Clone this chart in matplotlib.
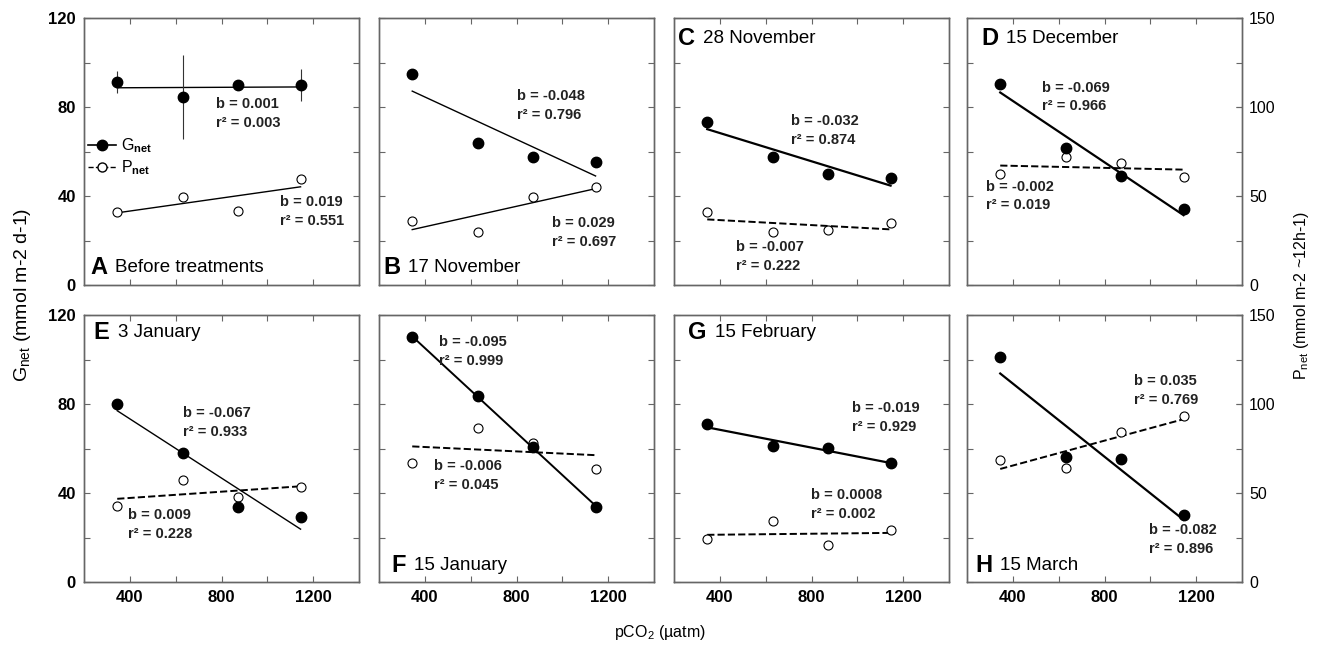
import numpy as np
import matplotlib
matplotlib.use('Agg')
import matplotlib.pyplot as plt
from matplotlib.lines import Line2D

plt.rcParams['font.family'] = ['Liberation Sans', 'DejaVu Sans']
plt.rcParams['mathtext.fontset'] = 'custom'
plt.rcParams['mathtext.rm'] = 'Liberation Sans'
plt.rcParams['mathtext.bf'] = 'Liberation Sans:bold'
plt.rcParams['mathtext.it'] = 'Liberation Sans:italic'

# pCO2 treatments (uatm)
pco2 = [345, 630, 870, 1145]

# Gnet (mmol m-2 d-1), left axis, one row per panel
g_net = [[91.1, 84.4, 89.9, 89.9],
         [94.8, 64.0, 57.7, 55.3],
         [73.4, 57.7, 49.8, 48.2],
         [90.5, 61.4, 49.0, 34.2],
         [79.8, 58.2, 33.5, 29.3],
         [110.0, 83.7, 60.8, 33.9],
         [70.8, 61.1, 60.3, 53.6],
         [101.3, 56.0, 55.2, 30.0]]

# Pnet (mmol m-2 ~12h-1), right axis
p_net = [[41.0, 49.6, 41.6, 59.4],
         [36.0, 30.0, 49.5, 55.3],
         [41.0, 29.6, 30.9, 34.6],
         [62.4, 72.1, 68.4, 60.9],
         [42.9, 57.2, 47.6, 53.4],
         [66.6, 86.6, 78.0, 63.6],
         [24.0, 34.1, 21.0, 29.1],
         [68.8, 64.1, 84.0, 93.4]]

# error bars only shown before treatments (panel A)
g_err_a = [5, 19, 2, 7]
p_err_a = [2, 2, 2, 2]

letters = ['A', 'B', 'C', 'D', 'E', 'F', 'G', 'H']
dates = ['Before treatments', '17 November', '28 November', '15 December',
         '3 January', '15 January', '15 February', '15 March']

g_stats = [('0.001', '0.003'), ('-0.048', '0.796'), ('-0.032', '0.874'), ('-0.069', '0.966'),
           ('-0.067', '0.933'), ('-0.095', '0.999'), ('-0.019', '0.929'), ('-0.082', '0.896')]
p_stats = [('0.019', '0.551'), ('0.029', '0.697'), ('-0.007', '0.222'), ('-0.002', '0.019'),
           ('0.009', '0.228'), ('-0.006', '0.045'), ('0.0008', '0.002'), ('0.035', '0.769')]

# text positions (x in uatm, y in left axis units)
g_txt_xy = [(775, 77), (804, 80.5), (709, 69.5), (526, 84.5),
            (630, 71.5), (461, 103.5), (978, 74), (996, 19)]
p_txt_xy = [(1057, 33), (957, 23.5), (470, 13), (283, 40),
            (391, 26), (440, 48), (796, 35), (930, 86)]
label_xy = [(226, 8), (217, 8), (218, 111), (261, 111),
            (243, 112), (255, 7.5), (262, 112), (235, 7.5)]
p_styles = ['-', '-', '--', '--', '--', '--', '--', '--']
g_widths = [1.0, 1.0, 1.6, 1.6, 1.0, 1.4, 1.6, 1.6]

spine_col = '#666666'
fig = plt.figure(figsize=(13.2, 6.45), dpi=100)
lefts = [84, 379, 674, 967]
bottoms = [285, 582]

for i in range(8):
    row, col = divmod(i, 4)
    ax = fig.add_axes([lefts[col] / 1320, (645 - bottoms[row]) / 645, 275 / 1320, 267 / 645])
    ax2 = ax.twinx()
    ax.set_xlim(200, 1400)
    ax.set_ylim(0, 120)
    ax2.set_ylim(0, 150)
    ax.set_zorder(ax2.get_zorder() + 1)
    ax.patch.set_visible(False)

    g = np.array(g_net[i])
    p = np.array(p_net[i])
    x = np.array(pco2)
    gfit = np.polyfit(x, g, 1)
    pfit = np.polyfit(x, p, 1)
    xl = np.array([x[0], x[-1]])

    ax2.plot(xl, np.polyval(pfit, xl), color='black', ls=p_styles[i], lw=1.4 if p_styles[i] == '--' else 1.0)
    if i == 0:
        ax2.errorbar(x, p, yerr=p_err_a, fmt='none', ecolor='#333333', elinewidth=0.8)
    ax2.plot(x, p, 'o', ms=6.5, mfc='white', mec='black', mew=0.8)

    ax.plot(xl, np.polyval(gfit, xl), color='black', lw=g_widths[i])
    if i == 0:
        ax.errorbar(x, g, yerr=g_err_a, fmt='none', ecolor='#333333', elinewidth=0.8)
    ax.plot(x, g, 'o', ms=7.5, color='black')

    ax.text(g_txt_xy[i][0], g_txt_xy[i][1], 'b = %s\nr² = %s' % g_stats[i],
            fontsize=10.5, fontweight='bold', va='center', ha='left', linespacing=1.45, color='#222222')
    ax.text(p_txt_xy[i][0], p_txt_xy[i][1], 'b = %s\nr² = %s' % p_stats[i],
            fontsize=10.5, fontweight='bold', va='center', ha='left', linespacing=1.45, color='#222222')

    lx, ly = label_xy[i]
    t = ax.text(lx, ly, letters[i], fontsize=17, fontweight='bold', va='center', ha='left')
    ax.annotate(dates[i], xy=(1, 0.5), xycoords=t, xytext=(6, 0), textcoords='offset points',
                fontsize=13.5, va='center', ha='left')

    ax.set_xticks([400, 600, 800, 1000, 1200])
    ax.set_yticks([0, 20, 40, 60, 80, 100, 120])
    ax.tick_params(direction='in', top=True, right=True, length=4, color=spine_col, pad=6)
    if row == 1:
        ax.set_xticklabels(['400', '', '800', '', '1200'], fontsize=12, fontweight='semibold')
    else:
        ax.set_xticklabels([])
    if col == 0:
        ax.set_yticklabels(['0', '', '40', '', '80', '', '120'], fontsize=12, fontweight='bold')
    else:
        ax.set_yticklabels([])
    if col == 3:
        ax2.set_yticks([0, 50, 100, 150])
        ax2.tick_params(direction='in', length=4, color=spine_col, labelsize=11.5, pad=5)
    else:
        ax2.set_yticks([])
    for a in (ax, ax2):
        for s in a.spines.values():
            s.set_color(spine_col)
            s.set_linewidth(1.0)

    if i == 0:
        handles = [Line2D([], [], color='black', marker='o', ms=7.5, lw=1.2),
                   Line2D([], [], color='black', marker='o', ms=6.5, mfc='white', lw=1.0, ls='--')]
        ax.legend(handles, [r'$\mathrm{G}_{\mathbf{net}}$', r'$\mathrm{P}_{\mathbf{net}}$'],
                  loc='upper left', bbox_to_anchor=(-0.01, 0.58), frameon=False, fontsize=11.5,
                  handlelength=1.8, handletextpad=0.3, labelspacing=0.2, borderaxespad=0)

fig.text(0.017, 0.543, r'$\mathrm{G}_{\mathrm{net}}$ (mmol m-2 d-1)', rotation=90,
         fontsize=14, ha='center', va='center')
fig.text(0.986, 0.541, r'$\mathrm{P}_{\mathrm{net}}$ (mmol m-2 ~12h-1)', rotation=90,
         fontsize=11.5, ha='center', va='center')
fig.text(0.5, 0.02, r'pCO$_2$ (µatm)', fontsize=11.5, ha='center', va='center')

fig.savefig('out.png', dpi=100)
